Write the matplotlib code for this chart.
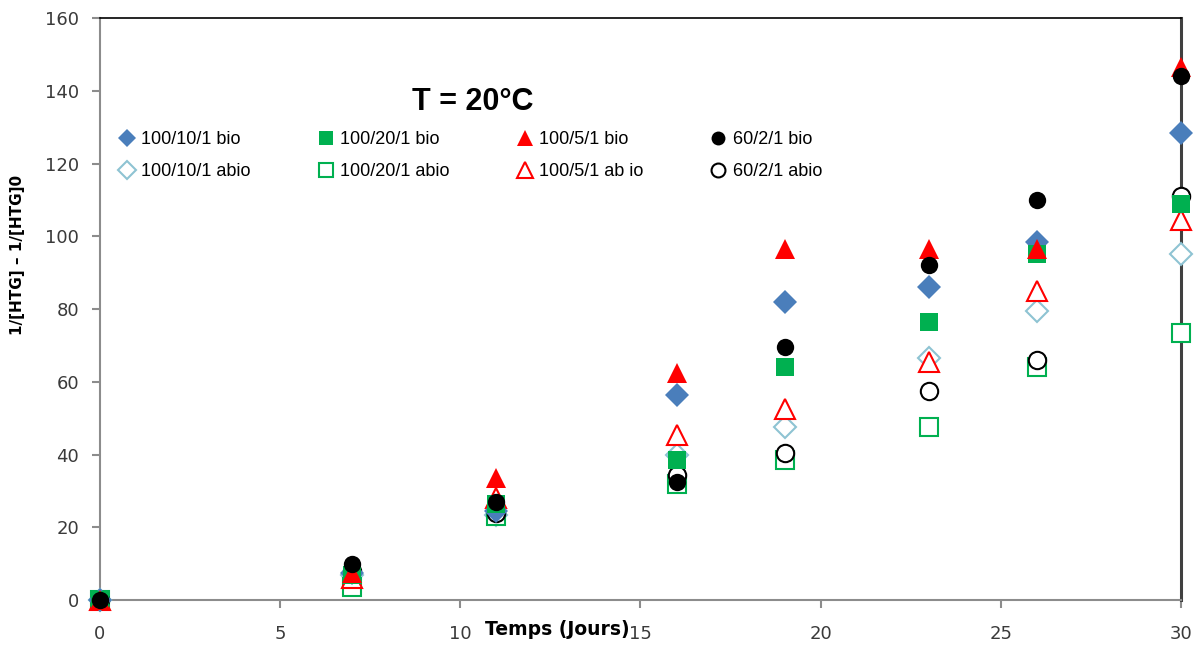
import numpy as np
import matplotlib
matplotlib.use("Agg")
import matplotlib.pyplot as plt

# jours de prélèvement
days = [0, 7, 11, 16, 19, 23, 26, 30]

# 1/[HTG] - 1/[HTG]0, essais biotiques
bio_100_10_1 = [0, 7.5, 24.5, 56.5, 82, 86, 98.5, 128.5]
bio_100_20_1 = [0, 7, 26.5, 38.5, 64, 76.5, 95, 109]
bio_100_5_1 = [0, 7.5, 33.5, 62.5, 96.5, 96.5, 96.5, 146.5]
bio_60_2_1 = [0, 9.8, 27, 32.5, 69.5, 92, 110, 144]

# essais abiotiques
abio_100_10_1 = [0, 7, 23.5, 40, 47.5, 66.5, 79.5, 95]
abio_100_20_1 = [0, 3.5, 23, 32, 38.5, 47.5, 64, 73.5]
abio_100_5_1 = [0, 6, 28, 45.5, 52.5, 65.5, 85, 104.5]
abio_60_2_1 = [0, 8, 24, 34.5, 40.5, 57.5, 66, 111]

labels_bio = ["100/10/1 bio", "100/20/1 bio", "100/5/1 bio", "60/2/1 bio"]
labels_abio = ["100/10/1 abio", "100/20/1 abio", "100/5/1 ab io", "60/2/1 abio"]

fig = plt.figure(figsize=(12.03, 6.47), dpi=100)
ax = fig.add_axes([0.0831, 0.0726, 0.8986, 0.8995])

# (valeurs, marqueur, taille, couleur, plein ?, libellé)
series = [
    (bio_100_10_1, "D", 12, "#4A7EBB", True, labels_bio[0]),
    (abio_100_10_1, "D", 11, "#8EC3D3", False, labels_abio[0]),
    (bio_100_20_1, "s", 13, "#00B050", True, labels_bio[1]),
    (abio_100_20_1, "s", 12.5, "#00B050", False, labels_abio[1]),
    (bio_100_5_1, "^", 14, "#FF0000", True, labels_bio[2]),
    (abio_100_5_1, "^", 14, "#FF0000", False, labels_abio[2]),
    (bio_60_2_1, "o", 12.5, "#000000", True, labels_bio[3]),
    (abio_60_2_1, "o", 12.5, "#000000", False, labels_abio[3]),
]

# abio d'abord, bio par-dessus
handles = {}
draw_order = [1, 3, 5, 7, 0, 2, 4, 6]
for i in draw_order:
    vals, mk, ms, col, filled, lab = series[i]
    h, = ax.plot(days, vals, linestyle="none", marker=mk, markersize=ms,
                 markerfacecolor=col if filled else "white",
                 markeredgecolor=col, markeredgewidth=0 if filled else 1.5,
                 clip_on=False, label=lab, zorder=3)
    handles[i] = h

ax.set_xlim(0, 30)
ax.set_ylim(0, 160)
ax.set_xticks(np.arange(0, 31, 5))
ax.set_yticks(np.arange(0, 161, 20))

for s in ["left", "bottom"]:
    ax.spines[s].set_color("#8C8C8C")
    ax.spines[s].set_linewidth(1.5)
ax.spines["top"].set_color("black")
ax.spines["top"].set_linewidth(1.2)
ax.spines["right"].set_color("#404040")
ax.spines["right"].set_linewidth(2.2)

ax.tick_params(axis="both", direction="out", length=6, width=1.5,
               color="#8C8C8C", labelsize=13, labelcolor="#3A3A3A")
ax.tick_params(axis="y", pad=9)
ax.tick_params(axis="x", pad=12)

ax.set_ylabel("1/[HTG] \u2013 1/[HTG]0", fontsize=11, fontweight="bold")
ax.yaxis.set_label_coords(-0.069, 0.593)
ax.set_xlabel("Temps (Jours)", fontsize=13.5, fontweight="bold")
ax.xaxis.set_label_coords(0.423, -0.035)

ax.text(0.345, 0.855, "T = 20°C", transform=ax.transAxes, ha="center",
        va="center", fontsize=22, fontweight="bold", family="Liberation Sans")

leg = ax.legend(handles=[handles[i] for i in range(8)], ncol=4,
                loc="upper left", bbox_to_anchor=(-0.001, 0.834),
                frameon=False, handletextpad=0.15, columnspacing=3.5,
                handlelength=1.3, labelspacing=0.85, markerscale=0.8,
                prop={"family": "Liberation Sans", "size": 13})

fig.savefig("out.png", dpi=100)
